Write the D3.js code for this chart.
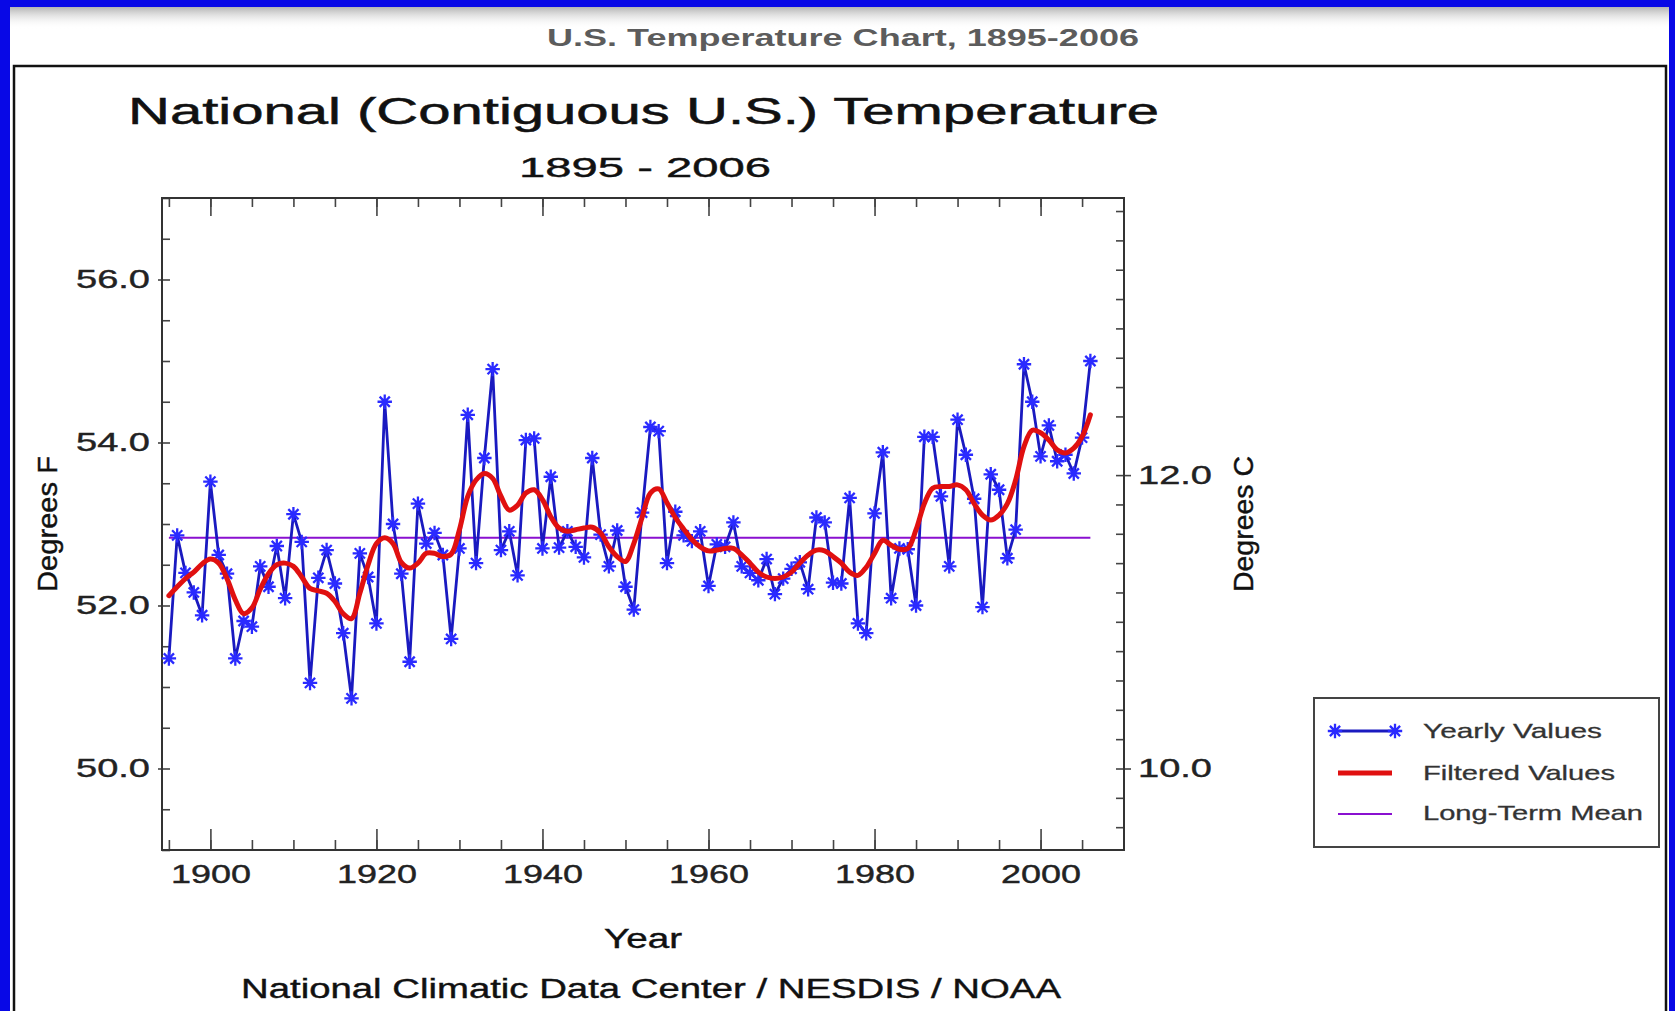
<!DOCTYPE html>
<html><head><meta charset="utf-8">
<script src="https://cdn.jsdelivr.net/npm/d3@7"></script>
<style>html,body{margin:0;padding:0;background:#0808e6;overflow:hidden}</style>
</head><body>
<svg id="c" width="1675" height="1011"></svg>
<script>
// ---------------- DATA ----------------
const years = d3.range(1895, 2007);
const yearlyValues = [
  51.35, 52.86, 52.40, 52.16, 51.88, 53.52, 52.62, 52.39, 51.35, 51.81,
  51.74, 52.48, 52.23, 52.73, 52.09, 53.12, 52.78, 51.05, 52.34, 52.68,
  52.27, 51.66, 50.86, 52.64, 52.35, 51.78, 54.50, 53.00, 52.39, 51.31,
  53.25, 52.76, 52.89, 52.62, 51.59, 52.70, 54.34, 52.52, 53.81, 54.90,
  52.68, 52.91, 52.37, 54.03, 54.05, 52.70, 53.58, 52.71, 52.91, 52.72,
  52.59, 53.81, 52.87, 52.48, 52.92, 52.23, 51.95, 53.14, 54.19, 54.14,
  52.52, 53.15, 52.86, 52.79, 52.91, 52.24, 52.75, 52.72, 53.02, 52.48,
  52.40, 52.31, 52.57, 52.14, 52.33, 52.45, 52.53, 52.20, 53.08, 53.02,
  52.28, 52.27, 53.32, 51.78, 51.66, 53.13, 53.88, 52.09, 52.70, 52.69,
  52.00, 54.07, 54.07, 53.34, 52.48, 54.28, 53.85, 53.31, 51.98, 53.61,
  53.42, 52.58, 52.93, 54.96, 54.50, 53.83, 54.21, 53.77, 53.85, 53.62,
  54.06, 55.00
];
const filteredValues = [
  52.12, 52.23, 52.33, 52.41, 52.51, 52.57, 52.52, 52.33, 52.07, 51.90,
  51.97, 52.20, 52.39, 52.50, 52.52, 52.48, 52.35, 52.21, 52.18, 52.15,
  52.05, 51.90, 51.84, 52.15, 52.50, 52.76, 52.83, 52.76, 52.53, 52.46,
  52.52, 52.64, 52.64, 52.60, 52.63, 52.93, 53.34, 53.54, 53.62, 53.56,
  53.34, 53.17, 53.23, 53.38, 53.42, 53.30, 53.09, 52.95, 52.91, 52.93,
  52.95, 52.96, 52.89, 52.72, 52.60, 52.54, 52.76, 53.08, 53.38, 53.43,
  53.26, 53.08, 52.94, 52.81, 52.72, 52.67, 52.68, 52.70, 52.70, 52.62,
  52.52, 52.41, 52.35, 52.33, 52.35, 52.41, 52.52, 52.62, 52.68, 52.67,
  52.60, 52.52, 52.41, 52.37, 52.47, 52.64, 52.80, 52.74, 52.69, 52.70,
  52.93, 53.25, 53.44, 53.46, 53.46, 53.48, 53.42, 53.25, 53.11, 53.05,
  53.11, 53.25, 53.54, 53.95, 54.15, 54.12, 54.03, 53.91, 53.87, 53.93,
  54.07, 54.34
];
const longTermMean = 52.83;
const majorYearTicks = [1900, 1920, 1940, 1960, 1980, 2000];
const minorYearTicks = d3.range(1895, 2010, 5);
const fMajorTicks = [50, 52, 54, 56];
const fMinorTicks = d3.range(49, 57.001, 0.5);
const cMajorTicks = [10, 12];
const cMinorTicks = d3.range(9.6, 13.81, 0.2);
const legendLabels = ["Yearly Values", "Filtered Values", "Long-Term Mean"];

// ---------------- DRAW ----------------
const FONT = "'Liberation Sans', Arial, Helvetica, sans-serif";
const svg = d3.select('#c');
const defs = svg.append('defs');
const grad = defs.append('linearGradient').attr('id','shade').attr('x1',0).attr('x2',0).attr('y1',0).attr('y2',1);
grad.append('stop').attr('offset','0%').attr('stop-color','#9a9a9a').attr('stop-opacity',0.75);
grad.append('stop').attr('offset','100%').attr('stop-color','#ffffff').attr('stop-opacity',0);

svg.append('rect').attr('x',10).attr('y',7).attr('width',1659).attr('height',1010).attr('fill','#fff');
svg.append('rect').attr('x',10).attr('y',7).attr('width',1659).attr('height',22).attr('fill','url(#shade)');

function txt(x, y, s, size, len, opts = {}) {
  const t = svg.append('text')
    .attr('x', x).attr('y', y)
    .attr('font-family', FONT)
    .attr('font-size', size)
    .attr('font-weight', opts.weight || 'normal')
    .attr('fill', opts.fill || '#111')
    .attr('text-anchor', opts.anchor || 'start')
    .attr('textLength', len)
    .attr('lengthAdjust', 'spacingAndGlyphs')
    .text(s);
  if (opts.stroke) t.attr('stroke', opts.fill || '#111').attr('stroke-width', opts.stroke);
  if (opts.rotate) t.attr('transform', `rotate(${opts.rotate},${x},${y})`);
  return t;
}

// header title
txt(547, 46, 'U.S. Temperature Chart, 1895-2006', 23, 592, {weight:'bold', fill:'#5c5c5c'});

// outer frame
svg.append('rect').attr('x',14).attr('y',66).attr('width',1652).attr('height',990)
  .attr('fill','none').attr('stroke','#111').attr('stroke-width',2.5);

// chart titles
txt(128, 124, 'National (Contiguous U.S.) Temperature', 36, 1031, {stroke:0.5});
txt(519, 177, '1895 - 2006', 28, 252, {stroke:0.4});

// plot geometry
const L = 162, R = 1124, T = 198, B = 850;
const x = d3.scaleLinear().domain([1894.17, 2010.05]).range([L, R]);
const yF = d3.scaleLinear().domain([49, 57]).range([B, T]);
const yC = d3.scaleLinear().domain([(49-32)*5/9, (57-32)*5/9]).range([B, T]);

function styleAxis(g, len) {
  g.select('.domain').remove();
  g.selectAll('line').attr('stroke', '#444').attr('stroke-width', 1.6);
  g.selectAll('text')
    .attr('font-family', FONT).attr('font-size', 26).attr('fill', '#222')
    .attr('stroke', '#222').attr('stroke-width', 0.4)
    .attr('textLength', len).attr('lengthAdjust', 'spacingAndGlyphs');
}

// bottom axis
svg.append('g').attr('transform', `translate(0,${B})`)
  .call(d3.axisBottom(x).tickValues(minorYearTicks).tickSize(-10).tickFormat(''))
  .call(g => styleAxis(g, 0));
svg.append('g').attr('transform', `translate(0,${B})`)
  .call(d3.axisBottom(x).tickValues(majorYearTicks).tickSizeInner(-21).tickSizeOuter(0).tickPadding(15).tickFormat(d3.format('d')))
  .call(g => styleAxis(g, 80));
// top axis
svg.append('g').attr('transform', `translate(0,${T})`)
  .call(d3.axisTop(x).tickValues(minorYearTicks).tickSize(-9).tickFormat(''))
  .call(g => styleAxis(g, 0));
svg.append('g').attr('transform', `translate(0,${T})`)
  .call(d3.axisTop(x).tickValues(majorYearTicks).tickSize(-18).tickFormat(''))
  .call(g => styleAxis(g, 0));
// left axis (deg F)
svg.append('g').attr('transform', `translate(${L},0)`)
  .call(d3.axisLeft(yF).tickValues(fMinorTicks).tickSize(-8).tickFormat(''))
  .call(g => styleAxis(g, 0));
svg.append('g').attr('transform', `translate(${L},0)`)
  .call(d3.axisLeft(yF).tickValues(fMajorTicks).tickSizeInner(4).tickSizeOuter(0).tickPadding(8).tickFormat(d3.format('.1f')))
  .call(g => styleAxis(g, 74));
// right axis (deg C)
svg.append('g').attr('transform', `translate(${R},0)`)
  .call(d3.axisRight(yC).tickValues(cMinorTicks).tickSize(-8).tickFormat(''))
  .call(g => styleAxis(g, 0));
svg.append('g').attr('transform', `translate(${R},0)`)
  .call(d3.axisRight(yC).tickValues(cMajorTicks).tickSizeInner(7).tickSizeOuter(0).tickPadding(7).tickFormat(d3.format('.1f')))
  .call(g => styleAxis(g, 74));

// plot frame
svg.append('rect').attr('x', L).attr('y', T).attr('width', R - L).attr('height', B - T)
  .attr('fill', 'none').attr('stroke', '#333').attr('stroke-width', 2);

// axis titles
txt(57, 524, 'Degrees F', 28, 136, {anchor:'middle', rotate:-90, stroke:0.4});
txt(1253, 524, 'Degrees C', 28, 136, {anchor:'middle', rotate:-90, stroke:0.4});
txt(604, 948, 'Year', 27, 78, {stroke:0.4});
txt(241, 998, 'National Climatic Data Center / NESDIS / NOAA', 27, 820, {stroke:0.4});

// series
const plot = svg.append('g');
plot.append('line')
  .attr('x1', x(years[0])).attr('x2', x(years[years.length-1]))
  .attr('y1', yF(longTermMean)).attr('y2', yF(longTermMean))
  .attr('stroke', '#8a10d0').attr('stroke-width', 2);

const lineY = d3.line().x((d, i) => x(years[i])).y(d => yF(d));
plot.append('path').datum(yearlyValues).attr('d', lineY)
  .attr('fill', 'none').attr('stroke', '#1a1ac0').attr('stroke-width', 2.8).attr('stroke-linejoin', 'round');

const star8 = {
  draw(ctx, size) {
    const r = Math.sqrt(size);
    for (let k = 0; k < 4; k++) {
      const a = k * Math.PI / 4;
      ctx.moveTo(r * Math.cos(a), r * Math.sin(a));
      ctx.lineTo(-r * Math.cos(a), -r * Math.sin(a));
    }
  }
};
const starPath = d3.symbol().type(star8).size(52);
plot.selectAll('path.star').data(yearlyValues).join('path').attr('class', 'star')
  .attr('transform', (d, i) => `translate(${x(years[i])},${yF(d)})`)
  .attr('d', starPath)
  .attr('fill', 'none').attr('stroke', '#2a2aff').attr('stroke-width', 2.3);

const lineF = d3.line().curve(d3.curveCatmullRom).x((d, i) => x(years[i])).y(d => yF(d));
plot.append('path').datum(filteredValues).attr('d', lineF)
  .attr('fill', 'none').attr('stroke', '#e01010').attr('stroke-width', 5).attr('stroke-linecap', 'round');

// legend
const lg = svg.append('g');
lg.append('rect').attr('x', 1314).attr('y', 698).attr('width', 345).attr('height', 149)
  .attr('fill', '#fff').attr('stroke', '#444').attr('stroke-width', 2);
lg.append('line').attr('x1', 1335).attr('x2', 1395).attr('y1', 731).attr('y2', 731)
  .attr('stroke', '#1a1ac0').attr('stroke-width', 2.8);
lg.selectAll('path.lstar').data([1335, 1395]).join('path').attr('class','lstar')
  .attr('transform', d => `translate(${d},731)`).attr('d', starPath)
  .attr('fill','none').attr('stroke','#2a2aff').attr('stroke-width',2.3);
lg.append('line').attr('x1', 1338).attr('x2', 1392).attr('y1', 773).attr('y2', 773)
  .attr('stroke', '#e01010').attr('stroke-width', 5);
lg.append('line').attr('x1', 1338).attr('x2', 1392).attr('y1', 814).attr('y2', 814)
  .attr('stroke', '#8a10d0').attr('stroke-width', 2);
const legendLens = [179, 192, 220];
const legendBase = [738, 780, 820];
legendLabels.forEach((s, i) => txt(1423, legendBase[i], s, 21, legendLens[i], {fill:'#333', stroke:0.3}));
</script>
</body></html>
